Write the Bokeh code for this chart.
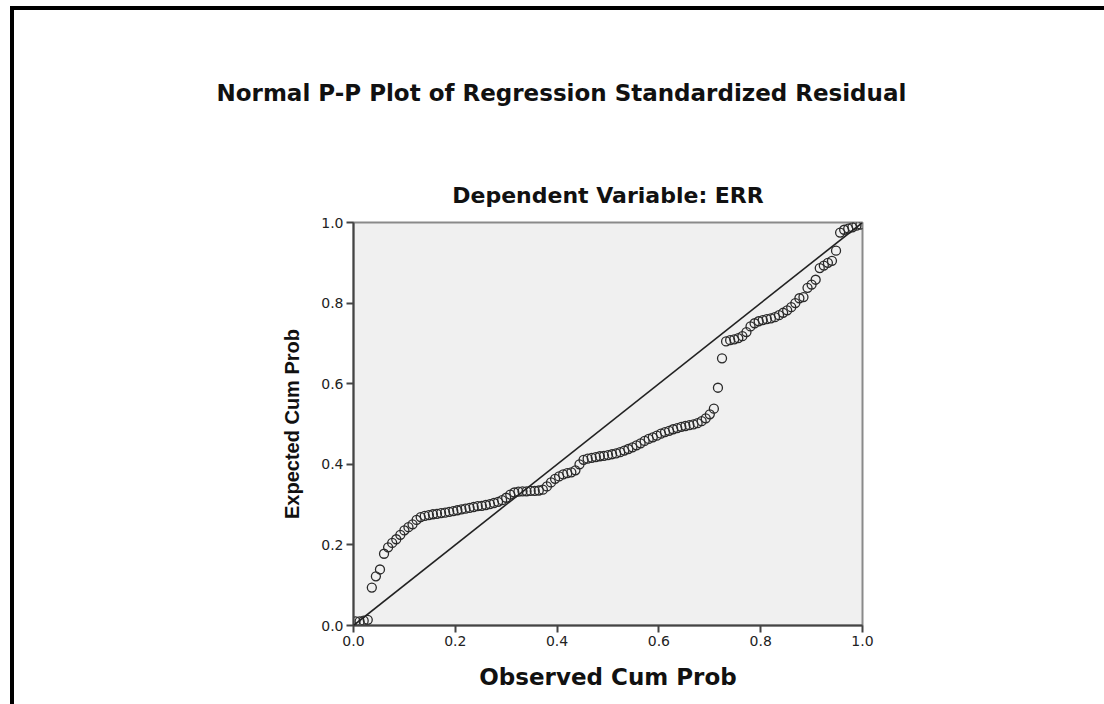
from bokeh.plotting import figure
from bokeh.models import Range1d, FixedTicker, Title, Slope, InlineStyleSheet
from bokeh.embed import file_html
from bokeh.resources import INLINE

# ---- data ----
observed_cum_prob = [
    0.004, 0.012, 0.020, 0.028, 0.036, 0.044, 0.052, 0.060, 0.068, 0.076,
    0.084, 0.092, 0.100, 0.108, 0.116, 0.124, 0.132, 0.140, 0.148, 0.156,
    0.164, 0.172, 0.180, 0.188, 0.196, 0.204, 0.212, 0.220, 0.228, 0.236,
    0.244, 0.252, 0.260, 0.268, 0.276, 0.284, 0.292, 0.300, 0.308, 0.316,
    0.324, 0.332, 0.340, 0.348, 0.356, 0.364, 0.372, 0.380, 0.388, 0.396,
    0.404, 0.412, 0.420, 0.428, 0.436, 0.444, 0.452, 0.460, 0.468, 0.476,
    0.484, 0.492, 0.500, 0.508, 0.516, 0.524, 0.532, 0.540, 0.548, 0.556,
    0.564, 0.572, 0.580, 0.588, 0.596, 0.604, 0.612, 0.620, 0.628, 0.636,
    0.644, 0.652, 0.660, 0.668, 0.676, 0.684, 0.692, 0.700, 0.708, 0.716,
    0.724, 0.732, 0.740, 0.748, 0.756, 0.764, 0.772, 0.780, 0.788, 0.796,
    0.804, 0.812, 0.820, 0.828, 0.836, 0.844, 0.852, 0.860, 0.868, 0.876,
    0.884, 0.892, 0.900, 0.908, 0.916, 0.924, 0.932, 0.940, 0.948, 0.956,
    0.964, 0.972, 0.980, 0.988, 0.996,
]
expected_cum_prob = [
    0.010, 0.010, 0.012, 0.014, 0.094, 0.122, 0.139, 0.178, 0.194, 0.205,
    0.214, 0.225, 0.236, 0.244, 0.251, 0.262, 0.269, 0.272, 0.274, 0.276,
    0.277, 0.279, 0.280, 0.282, 0.284, 0.286, 0.288, 0.290, 0.292, 0.294,
    0.296, 0.297, 0.299, 0.301, 0.304, 0.307, 0.311, 0.317, 0.325, 0.330,
    0.332, 0.333, 0.333, 0.334, 0.334, 0.335, 0.337, 0.345, 0.355, 0.364,
    0.370, 0.375, 0.378, 0.380, 0.385, 0.400, 0.411, 0.414, 0.416, 0.418,
    0.420, 0.421, 0.423, 0.425, 0.427, 0.430, 0.434, 0.438, 0.442, 0.447,
    0.452, 0.458, 0.463, 0.467, 0.471, 0.476, 0.480, 0.483, 0.487, 0.490,
    0.493, 0.495, 0.497, 0.499, 0.502, 0.507, 0.514, 0.524, 0.538, 0.590,
    0.663, 0.705, 0.708, 0.710, 0.713, 0.718, 0.728, 0.742, 0.750, 0.755,
    0.758, 0.760, 0.762, 0.765, 0.770, 0.776, 0.782, 0.790, 0.800, 0.812,
    0.815, 0.838, 0.846, 0.858, 0.887, 0.893, 0.900, 0.905, 0.930, 0.975,
    0.982, 0.985, 0.988, 0.992, 0.995,
]
tick_values = [0.0, 0.2, 0.4, 0.6, 0.8, 1.0]
tick_labels = ["0.0", "0.2", "0.4", "0.6", "0.8", "1.0"]

title_text = "Normal P-P Plot of Regression Standardized Residual"
subtitle_text = "Dependent Variable: ERR"
x_label_text = "Observed Cum Prob"
y_label_text = "Expected Cum Prob"

# ---- layout geometry (pixels) ----
W, H = 1104, 704
FL, FR, FT, FB = 353, 862, 222, 625

frame_css = InlineStyleSheet(css="""
:host { position: relative; }
:host::after {
  content: ""; position: absolute; left: 10px; top: 6px;
  width: 1094px; height: 698px; box-sizing: border-box;
  border-left: 4px solid #000; border-top: 4px solid #000;
  pointer-events: none;
}
""")

p = figure(width=W, height=H, output_backend="svg", toolbar_location=None,
           x_range=Range1d(0, 1), y_range=Range1d(0, 1),
           min_border_left=FL, min_border_right=W - FR,
           min_border_top=FT, min_border_bottom=H - FB,
           stylesheets=[frame_css])

p.background_fill_color = "#f0f0f0"
p.border_fill_color = "white"
p.outline_line_color = "#8a8a8a"
p.outline_line_width = 2
p.xgrid.visible = False
p.ygrid.visible = False

for ax in (p.xaxis[0], p.yaxis[0]):
    ax.ticker = FixedTicker(ticks=tick_values)
    ax.major_label_overrides = {v: s for v, s in zip(tick_values, tick_labels)}
    ax.axis_line_color = "#444444"
    ax.axis_line_width = 2
    ax.major_tick_line_color = "#444444"
    ax.major_tick_line_width = 2
    ax.major_tick_out = 7
    ax.major_tick_in = 0
    ax.minor_tick_line_color = None
    ax.major_label_text_font = "DejaVu Sans"
    ax.major_label_text_font_size = "14px"
    ax.major_label_text_color = "#222222"
    ax.major_label_standoff = 3
    ax.axis_label_text_font_style = "bold"
    ax.axis_label_text_color = "#111111"

p.xaxis[0].axis_label = x_label_text
p.xaxis[0].axis_label_text_font = "DejaVu Sans"
p.xaxis[0].axis_label_text_font_size = "23px"
p.xaxis[0].axis_label_standoff = 15
p.yaxis[0].axis_label = y_label_text
p.yaxis[0].axis_label_text_font = "Liberation Sans"
p.yaxis[0].axis_label_text_font_size = "20px"
p.yaxis[0].axis_label_standoff = 15

# titles: p.title is the outer one, the added Title sits nearer the frame
p.title.text = title_text
p.title.align = "left"
p.title.offset = -137
p.title.text_font = "DejaVu Sans"
p.title.text_font_style = "bold"
p.title.text_font_size = "23px"
p.title.text_color = "#111111"
p.title.standoff = 119

sub_title = Title(text=subtitle_text, align="center",
                  text_font="DejaVu Sans", text_font_style="bold",
                  text_font_size="22px", text_color="#111111", standoff=30)
p.add_layout(sub_title, "above")

# reference diagonal
p.add_layout(Slope(gradient=1, y_intercept=0, line_color="#222222", line_width=1.6))

# points
p.scatter(observed_cum_prob, expected_cum_prob, marker="circle", size=9,
          fill_color=None, line_color="#2a2a2a", line_width=1.3)

open("out.html", "w").write(file_html(p, INLINE))
